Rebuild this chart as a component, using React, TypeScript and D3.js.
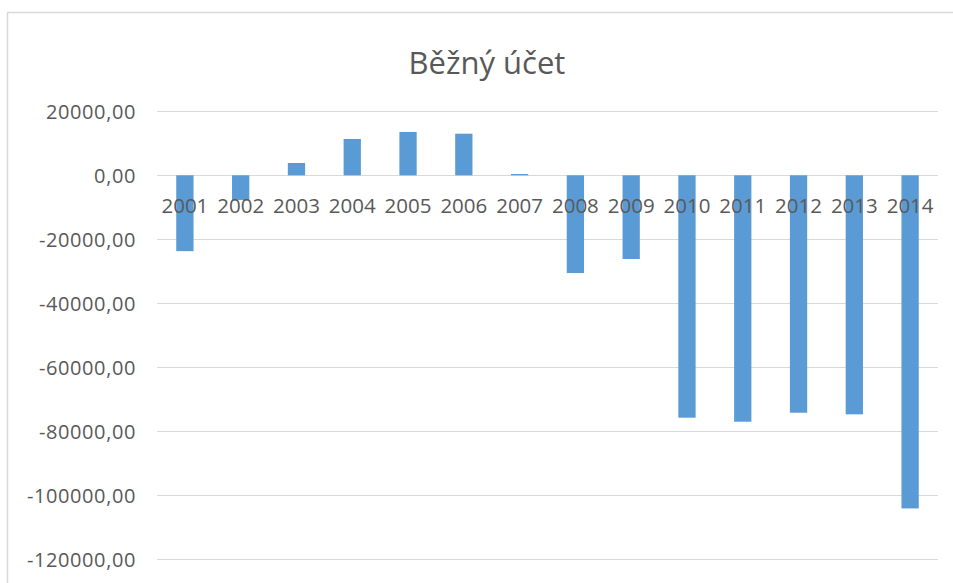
import React from 'react';
import * as d3 from 'd3';

const YEARS = ['2001', '2002', '2003', '2004', '2005', '2006', '2007', '2008', '2009', '2010', '2011', '2012', '2013', '2014'];
const VALUES = [-23700, -7700, 3850, 11350, 13550, 13000, 400, -30550, -26150, -75750, -77000, -74200, -74700, -104100];
const Y_TICKS = [20000, 0, -20000, -40000, -60000, -80000, -100000, -120000];
const TITLE = 'Běžný účet';

const W = 953, H = 583;
const m = { l: 157, r: 938, t: 111.3, b: 559.3 };
const FONT = "'Open Sans', 'Noto Sans', sans-serif";
const TEXT = '#595959';
const GRID = '#d9d9d9';
const BAR = '#5b9bd5';

const cz = d3.formatLocale({ decimal: ',', thousands: '', grouping: [3], currency: ['', ' Kč'], minus: '-' });
const fmt = cz.format('.2f');

export default function App() {
  const x = d3.scaleBand<string>().domain(YEARS).range([m.l, m.r]).paddingInner(0.69).paddingOuter(0.345);
  const y = d3.scaleLinear().domain([-120000, 20000]).range([m.b, m.t]);

  return (
    <svg width={W} height={H} viewBox={`0 0 ${W} ${H}`}
      style={{ position: 'fixed', left: 0, top: 0, background: '#fff' }}>
      <rect x={0} y={0} width={W} height={H} fill="#fff" />
      {/* chart frame, cropped at right and bottom */}
      <path d={`M7.5,${H} V12.5 H${W}`} fill="none" stroke={GRID} strokeWidth={1.5} />

      <text x={487} y={62} textAnchor="middle" dominantBaseline="central"
        fontFamily={FONT} fontSize={31} fill={TEXT}>{TITLE}</text>

      {/* gridlines */}
      {Y_TICKS.map(t => (
        <line key={t} x1={m.l} x2={m.r} y1={Math.round(y(t)) + 0.5} y2={Math.round(y(t)) + 0.5}
          stroke={GRID} strokeWidth={1} />
      ))}
      {Y_TICKS.map(t => (
        <text key={'l' + t} x={136} y={y(t)} textAnchor="end" dominantBaseline="central"
          fontFamily={FONT} fontSize={20} letterSpacing={0.6} fill={TEXT}>{fmt(t)}</text>
      ))}

      {/* bars */}
      {YEARS.map((yr, i) => {
        const v = VALUES[i];
        const y0 = y(Math.max(0, v));
        const y1 = y(Math.min(0, v));
        return (
          <rect key={yr} x={x(yr)} y={y0} width={x.bandwidth()} height={Math.max(1, y1 - y0)} fill={BAR} />
        );
      })}

      {/* category labels sit just under the zero line */}
      {YEARS.map(yr => (
        <text key={'c' + yr} x={(x(yr) as number) + x.bandwidth() / 2} y={y(0) + 30}
          textAnchor="middle" dominantBaseline="central"
          fontFamily={FONT} fontSize={20.5} fill={TEXT}>{yr}</text>
      ))}
    </svg>
  );
}
